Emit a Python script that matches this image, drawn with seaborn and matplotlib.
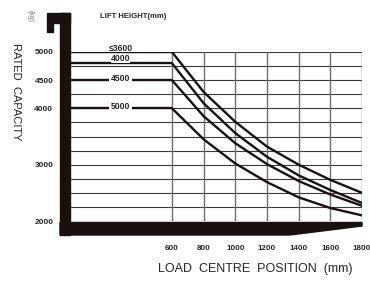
import numpy as np
import pandas as pd
import seaborn as sns
import matplotlib
matplotlib.use("Agg")
import matplotlib.pyplot as plt
from matplotlib.patches import Polygon

# data
load_centre = [600, 800, 1000, 1200, 1400, 1600, 1800]
lift_heights = ["≤3600", "4000", "4500", "5000"]
cap_3600 = [5000, 4290, 3760, 3320, 3000, 2730, 2500]
cap_4000 = [4800, 4090, 3560, 3140, 2810, 2550, 2320]
cap_4500 = [4500, 3860, 3380, 3010, 2710, 2470, 2270]
cap_5000 = [4000, 3450, 3020, 2690, 2420, 2230, 2100]
y_ticks = [2000, 3000, 4000, 4500, 5000]
x_ticks = [600, 800, 1000, 1200, 1400, 1600, 1800]

caps = [cap_3600, cap_4000, cap_4500, cap_5000]
df = pd.DataFrame({
    "load": load_centre * 4,
    "cap": cap_3600 + cap_4000 + cap_4500 + cap_5000,
    "lift": np.repeat(lift_heights, len(load_centre)),
})

sns.set_style("white")
plt.rcParams["font.family"] = ["Liberation Sans", "DejaVu Sans"]

W, H = 370, 281
fig = plt.figure(figsize=(W / 100, H / 100), dpi=100)

def fx(x):
    return x / W

def fy(y):
    return 1 - y / H

ax = fig.add_axes([fx(70), fy(221), fx(362) - fx(70), fy(52) - fy(221)])
X0 = -44
ax.set_xlim(X0, 1800)
ax.set_ylim(2000, 5000)

blk = "#1a1010"

# grid
for v in np.arange(2000, 5001, 250):
    ax.axhline(v, color="#3a3a3a", lw=0.8, zorder=1)
for v in x_ticks:
    ax.axvline(v, color="#6e6e6e", lw=1.0, zorder=1)

sns.lineplot(data=df, x="load", y="cap", hue="lift", palette=[blk] * 4,
             legend=False, sort=False, lw=1.7, ax=ax, zorder=3)
for c in caps:
    ax.hlines(c[0], X0, load_centre[0], color=blk, lw=1.7, zorder=3)

# curve labels on the flat part
lx = 275
ax.text(lx, 5060, lift_heights[0], ha="center", va="center", clip_on=False,
        fontsize=6.2, fontweight="bold", zorder=4)
ax.text(lx, 4880, lift_heights[1], ha="center", va="center",
        fontsize=6.2, fontweight="bold", zorder=4,
        bbox=dict(facecolor="white", edgecolor="none", pad=0.1))
for name, c in [(lift_heights[2], cap_4500), (lift_heights[3], cap_5000)]:
    ax.text(lx, c[0] + 30, name, ha="center", va="center", fontsize=6.2,
            fontweight="bold", zorder=4,
            bbox=dict(facecolor="white", edgecolor="none", pad=1.0))

for s in ax.spines.values():
    s.set_visible(False)
ax.set_yticks(y_ticks)
ax.set_yticklabels([str(t) for t in y_ticks], fontsize=6, fontweight="bold")
ax.set_xticks(x_ticks)
ax.set_xticklabels([str(t) for t in x_ticks], fontsize=5.8, fontweight="bold")
ax.tick_params(axis="y", length=0, pad=12)
ax.tick_params(axis="x", length=0, pad=17)
ax.set_xlabel("")
ax.set_ylabel("")

# thick frame
fig.add_artist(Polygon([(fx(60), fy(13)), (fx(70), fy(13)), (fx(70), fy(235)),
                        (fx(60), fy(235))], closed=True, color=blk,
                       transform=fig.transFigure))
fig.add_artist(Polygon([(fx(47), fy(13)), (fx(70), fy(13)), (fx(70), fy(23)),
                        (fx(53), fy(23)), (fx(53), fy(32)), (fx(47), fy(32))],
                       closed=True, color=blk, transform=fig.transFigure))
fig.add_artist(Polygon([(fx(60), fy(222.5)), (fx(362), fy(222.5)), (fx(362), fy(226)),
                        (fx(290), fy(235)), (fx(60), fy(235))], closed=True,
                       color=blk, transform=fig.transFigure))

fig.text(fx(100), fy(16), "LIFT HEIGHT(mm)", fontsize=5.6, fontweight="bold",
         ha="left", va="center")
fig.text(fx(30), fy(16), "(kg)", fontsize=5, color="#777777", rotation=-90,
         ha="center", va="center")
fig.text(fx(16), fy(92), "RATED  CAPACITY", fontsize=8, rotation=-90,
         ha="center", va="center")
fig.text(fx(255), fy(269), "LOAD  CENTRE  POSITION  (mm)", fontsize=9,
         ha="center", va="center")

fig.savefig("out.png", dpi=100)
